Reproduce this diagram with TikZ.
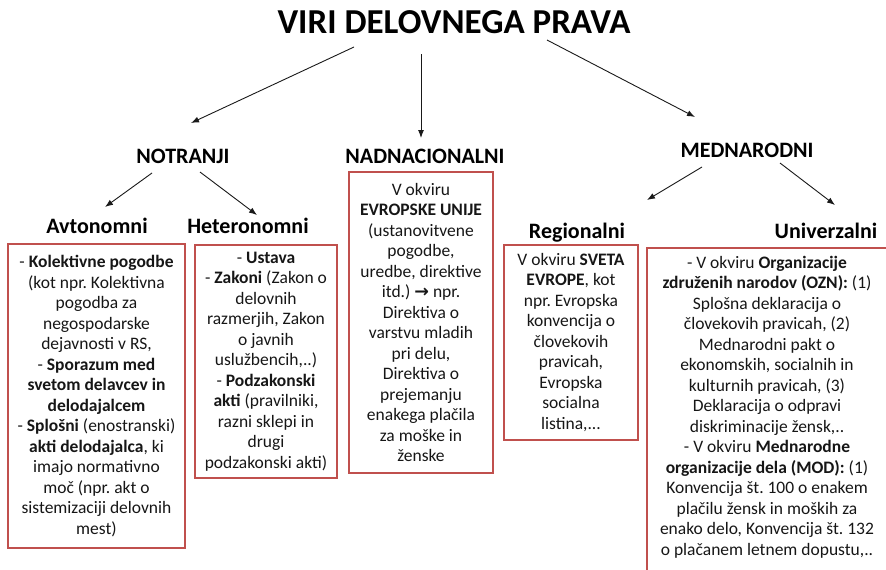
\documentclass[tikz,border=0pt]{standalone}
\usepackage{fontspec}
\setmainfont{Carlito}
\newfontfamily\symfont{DejaVu Sans}
\usetikzlibrary{arrows.meta}
\definecolor{boxred}{RGB}{192,80,77}
\definecolor{txt}{RGB}{22,22,22}
\tikzset{
  body/.style={font=\fontsize{17.5}{20.5}\selectfont\frenchspacing, align=center, text=txt},
  boxnode/.style={body, draw=boxred, line width=2pt, inner sep=0pt},
  emptybox/.style={draw=boxred, line width=2pt, inner sep=0pt},
  head/.style={font=\fontsize{22}{26}\selectfont\bfseries, inner sep=0pt, anchor=base, text=black},
  ttl/.style={font=\fontsize{35}{40}\selectfont\bfseries, inner sep=0pt, anchor=base, text=black},
  arr/.style={draw=black!90, line width=0.9pt, -{Latex[length=8pt,width=6pt]}},
}
\begin{document}
\begin{tikzpicture}[x=1pt,y=-1pt]
\useasboundingbox (0,0) rectangle (886,570);
\clip (0,0) rectangle (886,570);

% title and headings
\node[ttl] (title) at (454,33.5) {VIRI DELOVNEGA PRAVA};
\node[head] (notr) at (183,163) {NOTRANJI};
\node[head] (nadn) at (425,163) {NADNACIONALNI};
\node[head] (medn) at (747,157) {MEDNARODNI};
\node[head] (avt) at (97,233) {Avtonomni};
\node[head] (het) at (248,233) {Heteronomni};
\node[head] (reg) at (577,238) {Regionalni};
\node[head] (uni) at (826,238) {Univerzalni};

% boxes
\node[boxnode, minimum width=177, minimum height=304] (bavt) at (96.5,396) {%
- \textbf{Kolektivne pogodbe}\\
(kot npr. Kolektivna\\
pogodba za\\
negospodarske\\
dejavnosti v RS,\\
- \textbf{Sporazum med}\\
\textbf{svetom delavcev in}\\
\textbf{delodajalcem}\\
- \textbf{Splošni} (enostranski)\\
\textbf{akti delodajalca}, ki\\
imajo normativno\\
moč (npr. akt o\\
sistemizaciji delovnih\\
mest)};

\node[boxnode, minimum width=142, minimum height=233] (bhet) at (266,361.5) {%
- \textbf{Ustava}\\
- \textbf{Zakoni} (Zakon o\\
delovnih\\
razmerjih, Zakon\\
o javnih\\
uslužbencih,..)\\
- \textbf{Podzakonski}\\
\textbf{akti} (pravilniki,\\
razni sklepi in\\
drugi\\
podzakonski akti)};

\node[boxnode, minimum width=144, minimum height=301] (beu) at (421,322.5) {%
V okviru\\
\textbf{EVROPSKE UNIJE}\\
(ustanovitvene\\
pogodbe,\\
uredbe, direktive\\
itd.) {\symfont\bfseries →} npr.\\
Direktiva o\\
varstvu mladih\\
pri delu,\\
Direktiva o\\
prejemanju\\
enakega plačila\\
za moške in\\
ženske};

\node[boxnode, minimum width=134, minimum height=195] (breg) at (571,342.5) {%
V okviru \textbf{SVETA}\\
\textbf{EVROPE}, kot\\
npr. Evropska\\
konvencija o\\
človekovih\\
pravicah,\\
Evropska\\
socialna\\
listina,...};

\node[emptybox, minimum width=241, minimum height=352] (buni) at (767.5,424) {};
\node[body, inner sep=0pt, anchor=north] (unitext) at (767,256) {%
- V okviru \textbf{Organizacije}\\
\textbf{združenih narodov (OZN):} (1)\\
Splošna deklaracija o\\
človekovih pravicah, (2)\\
Mednarodni pakt o\\
ekonomskih, socialnih in\\
kulturnih pravicah, (3)\\
Deklaracija o odpravi\\
diskriminacije žensk,..\\
- V okviru \textbf{Mednarodne}\\
\textbf{organizacije dela (MOD):} (1)\\
Konvencija št. 100 o enakem\\
plačilu žensk in moških za\\
enako delo, Konvencija št. 132\\
o plačanem letnem dopustu,..};

% connectors
\draw[arr] ([shift={(-100,13.5)}]title.base) -- ([shift={(8,-40)}]notr.base);
\draw[arr] ([shift={(-33,20.5)}]title.base) -- ([shift={(-4,-25)}]nadn.base);
\draw[arr] ([shift={(93,6.5)}]title.base) -- ([shift={(-52,-40)}]medn.base);
\draw[arr] ([shift={(-31,10)}]notr.base) -- ([shift={(8,-26)}]avt.base);
\draw[arr] ([shift={(17,9)}]notr.base) -- ([shift={(9,-18)}]het.base);
\draw[arr] ([shift={(-45,10)}]medn.base) -- ([shift={(70,-38)}]reg.base);
\draw[arr] ([shift={(33,6)}]medn.base) -- ([shift={(9,-33)}]uni.base);
\end{tikzpicture}
\end{document}
